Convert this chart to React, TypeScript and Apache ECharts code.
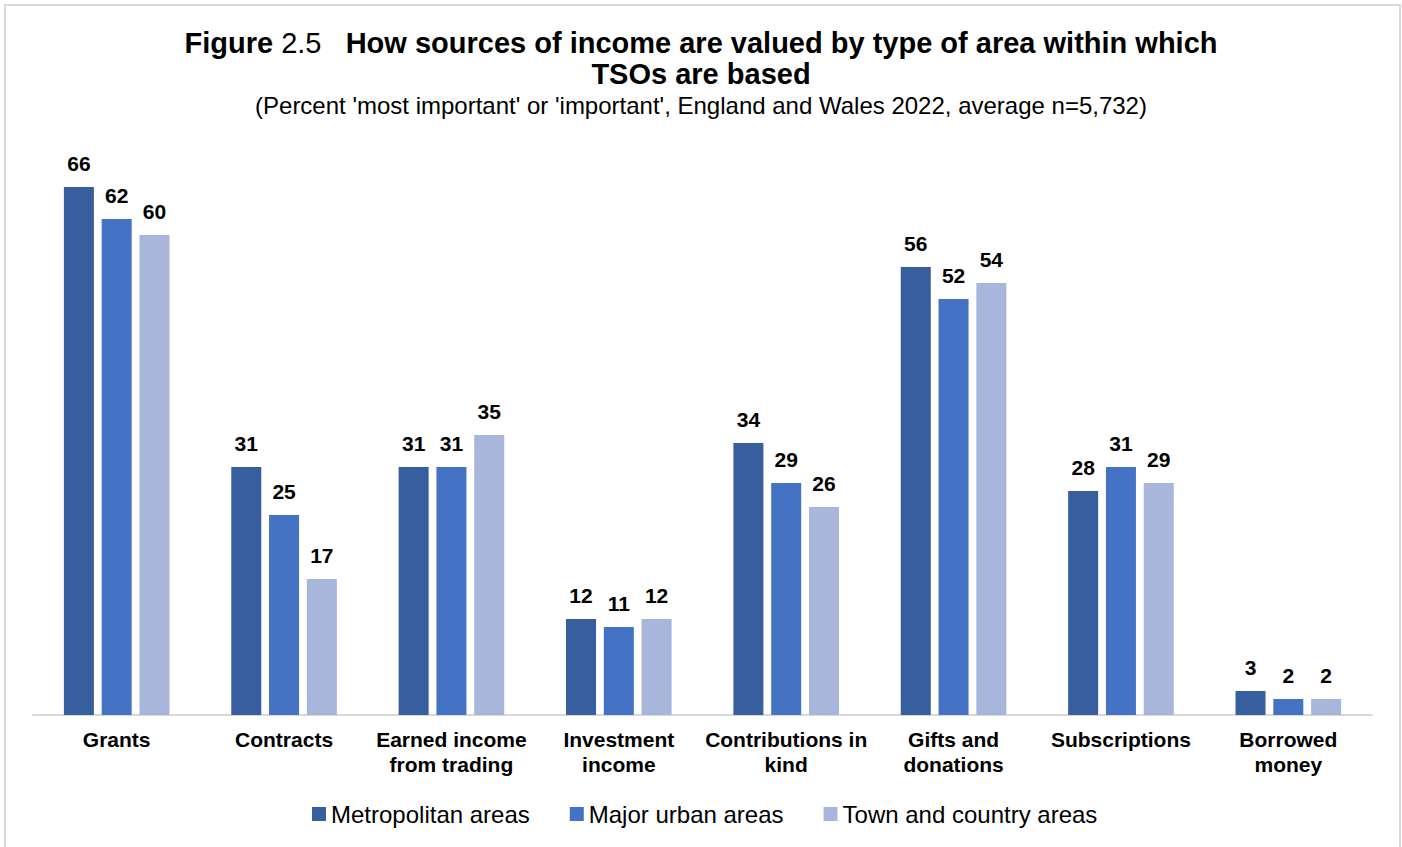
import React, { useEffect, useRef } from "react";
import * as echarts from "echarts";

const categories = [
  "Grants",
  "Contracts",
  "Earned income\nfrom trading",
  "Investment\nincome",
  "Contributions in\nkind",
  "Gifts and\ndonations",
  "Subscriptions",
  "Borrowed\nmoney",
];
const seriesNames = ["Metropolitan areas", "Major urban areas", "Town and country areas"];
const metropolitan = [66, 31, 31, 12, 34, 56, 28, 3];
const majorUrban = [62, 25, 31, 11, 29, 52, 31, 2];
const townCountry = [60, 17, 35, 12, 26, 54, 29, 2];
const colors = ["#375E9F", "#4472C4", "#A9B6DB"];

const FONT = '"Liberation Sans", Arial, sans-serif';

export default function App() {
  const ref = useRef<HTMLDivElement>(null);
  useEffect(() => {
    if (!ref.current) return;
    const chart = echarts.init(ref.current, null, { renderer: "svg" });
    const values = [metropolitan, majorUrban, townCountry];
    chart.setOption({
      animation: false,
      backgroundColor: "#ffffff",
      textStyle: { fontFamily: FONT },
      title: [
        {
          text: "{b|Figure }{n|2.5}{b|   How sources of income are valued by type of area within which}",
          left: "center",
          top: 23,
          textStyle: {
            fontFamily: FONT,
            fontSize: 29,
            fontWeight: "bold",
            color: "#000",
            rich: {
              b: { fontSize: 29, fontWeight: "bold", color: "#000", fontFamily: FONT },
              n: { fontSize: 29, fontWeight: "normal", color: "#000", fontFamily: FONT },
            },
          },
        },
        {
          text: "TSOs are based",
          left: "center",
          top: 54,
          textStyle: { fontSize: 29, fontWeight: "bold", color: "#000", fontFamily: FONT },
        },
        {
          text: "(Percent 'most important' or 'important', England and Wales 2022, average n=5,732)",
          left: "center",
          top: 88,
          textStyle: { fontSize: 24, fontWeight: "normal", color: "#000", fontFamily: FONT },
        },
      ],
      graphic: [
        {
          type: "rect",
          shape: { x: 5, y: 5, width: 1395, height: 900 },
          style: { fill: "none", stroke: "#d9d9d9", lineWidth: 2 },
          silent: true,
        },
      ],
      legend: {
        data: seriesNames,
        left: 307,
        top: 797,
        icon: "rect",
        itemWidth: 14,
        itemHeight: 14,
        itemGap: 40,
        textStyle: { fontSize: 24, color: "#000", fontFamily: FONT },
      },
      grid: { left: 33, right: 30, top: 155, bottom: 132, containLabel: false },
      xAxis: {
        type: "category",
        data: categories,
        axisLine: { show: true, lineStyle: { color: "#d9d9d9", width: 2 } },
        axisTick: { show: false },
        axisLabel: {
          interval: 0,
          margin: 12,
          fontSize: 21,
          fontWeight: "bold",
          color: "#000",
          lineHeight: 25,
          fontFamily: FONT,
        },
      },
      yAxis: {
        type: "value",
        min: 0,
        max: 70,
        show: false,
        splitLine: { show: false },
      },
      series: seriesNames.map((name, i) => ({
        name,
        type: "bar",
        data: values[i],
        barWidth: 30,
        barGap: "26%",
        itemStyle: { color: colors[i] },
        label: {
          show: true,
          position: "top",
          distance: 13,
          fontSize: 21,
          fontWeight: "bold",
          color: "#000",
          fontFamily: FONT,
        },
      })),
    });
    return () => chart.dispose();
  }, []);
  return (
    <div
      ref={ref}
      style={{ position: "fixed", left: 0, top: 0, width: 1402, height: 847 }}
    />
  );
}
